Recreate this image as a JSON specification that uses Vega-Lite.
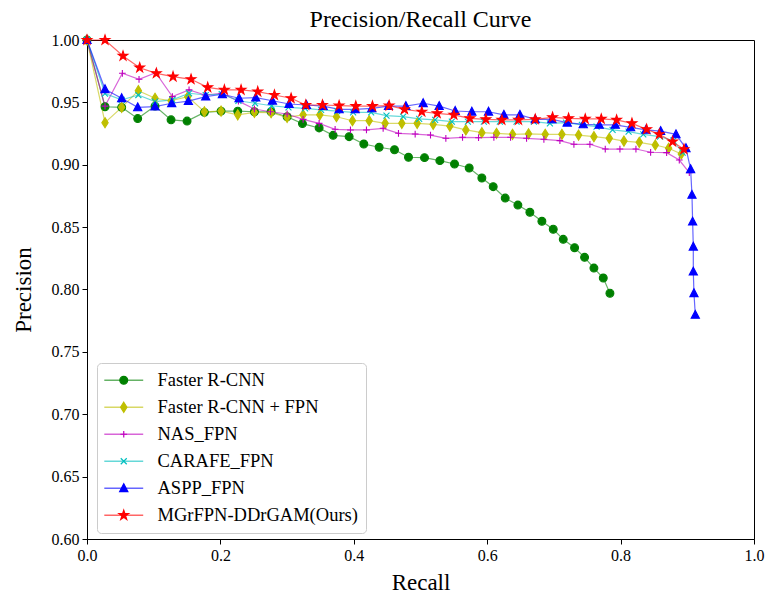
{
  "$schema": "https://vega.github.io/schema/vega-lite/v6.json",
  "width": 667,
  "height": 499,
  "autosize": {"type": "none"},
  "padding": {"left": 87, "top": 40, "right": 12, "bottom": 55},
  "background": "white",
  "title": {"text": "Precision/Recall Curve", "font": "Liberation Serif", "fontSize": 24, "fontWeight": "normal", "color": "black", "offset": 0, "frame": "group"},
  "data": {"values": [
    {"m":"Faster R-CNN","i":0,"r":0,"p":1.0},{"m":"Faster R-CNN","i":1,"r":0.027,"p":0.9465},{"m":"Faster R-CNN","i":2,"r":0.052,"p":0.946},{"m":"Faster R-CNN","i":3,"r":0.076,"p":0.937},{"m":"Faster R-CNN","i":4,"r":0.102,"p":0.947},{"m":"Faster R-CNN","i":5,"r":0.126,"p":0.936},{"m":"Faster R-CNN","i":6,"r":0.150,"p":0.935},{"m":"Faster R-CNN","i":7,"r":0.176,"p":0.942},{"m":"Faster R-CNN","i":8,"r":0.201,"p":0.943},{"m":"Faster R-CNN","i":9,"r":0.226,"p":0.943},{"m":"Faster R-CNN","i":10,"r":0.251,"p":0.9425},{"m":"Faster R-CNN","i":11,"r":0.276,"p":0.9425},{"m":"Faster R-CNN","i":12,"r":0.300,"p":0.9385},{"m":"Faster R-CNN","i":13,"r":0.323,"p":0.933},{"m":"Faster R-CNN","i":14,"r":0.348,"p":0.9295},{"m":"Faster R-CNN","i":15,"r":0.369,"p":0.9236},{"m":"Faster R-CNN","i":16,"r":0.393,"p":0.9225},{"m":"Faster R-CNN","i":17,"r":0.415,"p":0.9166},{"m":"Faster R-CNN","i":18,"r":0.438,"p":0.914},{"m":"Faster R-CNN","i":19,"r":0.461,"p":0.912},{"m":"Faster R-CNN","i":20,"r":0.482,"p":0.906},{"m":"Faster R-CNN","i":21,"r":0.506,"p":0.9057},{"m":"Faster R-CNN","i":22,"r":0.529,"p":0.9033},{"m":"Faster R-CNN","i":23,"r":0.551,"p":0.9006},{"m":"Faster R-CNN","i":24,"r":0.573,"p":0.8974},{"m":"Faster R-CNN","i":25,"r":0.592,"p":0.8894},{"m":"Faster R-CNN","i":26,"r":0.609,"p":0.8824},{"m":"Faster R-CNN","i":27,"r":0.627,"p":0.8733},{"m":"Faster R-CNN","i":28,"r":0.646,"p":0.8677},{"m":"Faster R-CNN","i":29,"r":0.664,"p":0.8619},{"m":"Faster R-CNN","i":30,"r":0.682,"p":0.8547},{"m":"Faster R-CNN","i":31,"r":0.699,"p":0.8483},{"m":"Faster R-CNN","i":32,"r":0.714,"p":0.8402},{"m":"Faster R-CNN","i":33,"r":0.731,"p":0.8335},{"m":"Faster R-CNN","i":34,"r":0.746,"p":0.8258},{"m":"Faster R-CNN","i":35,"r":0.760,"p":0.8172},{"m":"Faster R-CNN","i":36,"r":0.774,"p":0.8092},{"m":"Faster R-CNN","i":37,"r":0.784,"p":0.797},
    {"m":"Faster R-CNN + FPN","i":0,"r":0,"p":1.0},{"m":"Faster R-CNN + FPN","i":1,"r":0.027,"p":0.9337},{"m":"Faster R-CNN + FPN","i":2,"r":0.052,"p":0.946},{"m":"Faster R-CNN + FPN","i":3,"r":0.077,"p":0.9594},{"m":"Faster R-CNN + FPN","i":4,"r":0.102,"p":0.9533},{"m":"Faster R-CNN + FPN","i":5,"r":0.126,"p":0.9513},{"m":"Faster R-CNN + FPN","i":6,"r":0.151,"p":0.9546},{"m":"Faster R-CNN + FPN","i":7,"r":0.176,"p":0.9425},{"m":"Faster R-CNN + FPN","i":8,"r":0.201,"p":0.943},{"m":"Faster R-CNN + FPN","i":9,"r":0.226,"p":0.940},{"m":"Faster R-CNN + FPN","i":10,"r":0.251,"p":0.942},{"m":"Faster R-CNN + FPN","i":11,"r":0.276,"p":0.9417},{"m":"Faster R-CNN + FPN","i":12,"r":0.300,"p":0.938},{"m":"Faster R-CNN + FPN","i":13,"r":0.324,"p":0.940},{"m":"Faster R-CNN + FPN","i":14,"r":0.349,"p":0.940},{"m":"Faster R-CNN + FPN","i":15,"r":0.374,"p":0.9385},{"m":"Faster R-CNN + FPN","i":16,"r":0.398,"p":0.9353},{"m":"Faster R-CNN + FPN","i":17,"r":0.423,"p":0.9353},{"m":"Faster R-CNN + FPN","i":18,"r":0.447,"p":0.9332},{"m":"Faster R-CNN + FPN","i":19,"r":0.472,"p":0.9332},{"m":"Faster R-CNN + FPN","i":20,"r":0.495,"p":0.9332},{"m":"Faster R-CNN + FPN","i":21,"r":0.519,"p":0.9324},{"m":"Faster R-CNN + FPN","i":22,"r":0.544,"p":0.931},{"m":"Faster R-CNN + FPN","i":23,"r":0.568,"p":0.9279},{"m":"Faster R-CNN + FPN","i":24,"r":0.592,"p":0.9257},{"m":"Faster R-CNN + FPN","i":25,"r":0.614,"p":0.9252},{"m":"Faster R-CNN + FPN","i":26,"r":0.638,"p":0.9244},{"m":"Faster R-CNN + FPN","i":27,"r":0.662,"p":0.9248},{"m":"Faster R-CNN + FPN","i":28,"r":0.687,"p":0.9244},{"m":"Faster R-CNN + FPN","i":29,"r":0.712,"p":0.9244},{"m":"Faster R-CNN + FPN","i":30,"r":0.737,"p":0.9238},{"m":"Faster R-CNN + FPN","i":31,"r":0.760,"p":0.9225},{"m":"Faster R-CNN + FPN","i":32,"r":0.783,"p":0.9212},{"m":"Faster R-CNN + FPN","i":33,"r":0.805,"p":0.919},{"m":"Faster R-CNN + FPN","i":34,"r":0.828,"p":0.918},{"m":"Faster R-CNN + FPN","i":35,"r":0.852,"p":0.9158},{"m":"Faster R-CNN + FPN","i":36,"r":0.872,"p":0.9132},{"m":"Faster R-CNN + FPN","i":37,"r":0.891,"p":0.9086},
    {"m":"NAS_FPN","i":0,"r":0,"p":1.0},{"m":"NAS_FPN","i":1,"r":0.027,"p":0.947},{"m":"NAS_FPN","i":2,"r":0.053,"p":0.9733},{"m":"NAS_FPN","i":3,"r":0.078,"p":0.9685},{"m":"NAS_FPN","i":4,"r":0.103,"p":0.9738},{"m":"NAS_FPN","i":5,"r":0.128,"p":0.9546},{"m":"NAS_FPN","i":6,"r":0.153,"p":0.960},{"m":"NAS_FPN","i":7,"r":0.177,"p":0.9559},{"m":"NAS_FPN","i":8,"r":0.202,"p":0.9573},{"m":"NAS_FPN","i":9,"r":0.227,"p":0.951},{"m":"NAS_FPN","i":10,"r":0.251,"p":0.9447},{"m":"NAS_FPN","i":11,"r":0.275,"p":0.9425},{"m":"NAS_FPN","i":12,"r":0.300,"p":0.9407},{"m":"NAS_FPN","i":13,"r":0.324,"p":0.9364},{"m":"NAS_FPN","i":14,"r":0.348,"p":0.9332},{"m":"NAS_FPN","i":15,"r":0.372,"p":0.9284},{"m":"NAS_FPN","i":16,"r":0.395,"p":0.9279},{"m":"NAS_FPN","i":17,"r":0.419,"p":0.9279},{"m":"NAS_FPN","i":18,"r":0.444,"p":0.9292},{"m":"NAS_FPN","i":19,"r":0.467,"p":0.9252},{"m":"NAS_FPN","i":20,"r":0.492,"p":0.9246},{"m":"NAS_FPN","i":21,"r":0.515,"p":0.9238},{"m":"NAS_FPN","i":22,"r":0.538,"p":0.9212},{"m":"NAS_FPN","i":23,"r":0.563,"p":0.922},{"m":"NAS_FPN","i":24,"r":0.587,"p":0.9217},{"m":"NAS_FPN","i":25,"r":0.610,"p":0.922},{"m":"NAS_FPN","i":26,"r":0.635,"p":0.922},{"m":"NAS_FPN","i":27,"r":0.659,"p":0.9212},{"m":"NAS_FPN","i":28,"r":0.685,"p":0.9204},{"m":"NAS_FPN","i":29,"r":0.709,"p":0.9193},{"m":"NAS_FPN","i":30,"r":0.730,"p":0.9164},{"m":"NAS_FPN","i":31,"r":0.754,"p":0.9164},{"m":"NAS_FPN","i":32,"r":0.777,"p":0.9126},{"m":"NAS_FPN","i":33,"r":0.799,"p":0.9126},{"m":"NAS_FPN","i":34,"r":0.823,"p":0.9126},{"m":"NAS_FPN","i":35,"r":0.845,"p":0.910},{"m":"NAS_FPN","i":36,"r":0.869,"p":0.9097},{"m":"NAS_FPN","i":37,"r":0.888,"p":0.9038},{"m":"NAS_FPN","i":38,"r":0.903,"p":0.8936},
    {"m":"CARAFE_FPN","i":0,"r":0,"p":1.0},{"m":"CARAFE_FPN","i":1,"r":0.027,"p":0.957},{"m":"CARAFE_FPN","i":2,"r":0.052,"p":0.952},{"m":"CARAFE_FPN","i":3,"r":0.077,"p":0.9559},{"m":"CARAFE_FPN","i":4,"r":0.102,"p":0.9506},{"m":"CARAFE_FPN","i":5,"r":0.128,"p":0.952},{"m":"CARAFE_FPN","i":6,"r":0.153,"p":0.9573},{"m":"CARAFE_FPN","i":7,"r":0.178,"p":0.9559},{"m":"CARAFE_FPN","i":8,"r":0.202,"p":0.9567},{"m":"CARAFE_FPN","i":9,"r":0.227,"p":0.9513},{"m":"CARAFE_FPN","i":10,"r":0.252,"p":0.9493},{"m":"CARAFE_FPN","i":11,"r":0.277,"p":0.9473},{"m":"CARAFE_FPN","i":12,"r":0.302,"p":0.946},{"m":"CARAFE_FPN","i":13,"r":0.327,"p":0.9452},{"m":"CARAFE_FPN","i":14,"r":0.351,"p":0.944},{"m":"CARAFE_FPN","i":15,"r":0.375,"p":0.943},{"m":"CARAFE_FPN","i":16,"r":0.399,"p":0.942},{"m":"CARAFE_FPN","i":17,"r":0.426,"p":0.942},{"m":"CARAFE_FPN","i":18,"r":0.449,"p":0.9394},{"m":"CARAFE_FPN","i":19,"r":0.474,"p":0.9385},{"m":"CARAFE_FPN","i":20,"r":0.498,"p":0.9367},{"m":"CARAFE_FPN","i":21,"r":0.522,"p":0.9359},{"m":"CARAFE_FPN","i":22,"r":0.547,"p":0.9345},{"m":"CARAFE_FPN","i":23,"r":0.571,"p":0.9345},{"m":"CARAFE_FPN","i":24,"r":0.595,"p":0.9345},{"m":"CARAFE_FPN","i":25,"r":0.619,"p":0.9345},{"m":"CARAFE_FPN","i":26,"r":0.644,"p":0.9345},{"m":"CARAFE_FPN","i":27,"r":0.670,"p":0.9345},{"m":"CARAFE_FPN","i":28,"r":0.694,"p":0.9332},{"m":"CARAFE_FPN","i":29,"r":0.718,"p":0.9337},{"m":"CARAFE_FPN","i":30,"r":0.742,"p":0.9319},{"m":"CARAFE_FPN","i":31,"r":0.764,"p":0.9305},{"m":"CARAFE_FPN","i":32,"r":0.788,"p":0.9279},{"m":"CARAFE_FPN","i":33,"r":0.812,"p":0.9265},{"m":"CARAFE_FPN","i":34,"r":0.834,"p":0.9244},{"m":"CARAFE_FPN","i":35,"r":0.859,"p":0.9225},{"m":"CARAFE_FPN","i":36,"r":0.879,"p":0.9193},{"m":"CARAFE_FPN","i":37,"r":0.893,"p":0.9097},
    {"m":"ASPP_FPN","i":0,"r":0,"p":1.0},{"m":"ASPP_FPN","i":1,"r":0.027,"p":0.9605},{"m":"ASPP_FPN","i":2,"r":0.052,"p":0.9533},{"m":"ASPP_FPN","i":3,"r":0.076,"p":0.946},{"m":"ASPP_FPN","i":4,"r":0.102,"p":0.9466},{"m":"ASPP_FPN","i":5,"r":0.127,"p":0.9493},{"m":"ASPP_FPN","i":6,"r":0.152,"p":0.951},{"m":"ASPP_FPN","i":7,"r":0.178,"p":0.9546},{"m":"ASPP_FPN","i":8,"r":0.203,"p":0.9565},{"m":"ASPP_FPN","i":9,"r":0.228,"p":0.9533},{"m":"ASPP_FPN","i":10,"r":0.253,"p":0.9538},{"m":"ASPP_FPN","i":11,"r":0.278,"p":0.9513},{"m":"ASPP_FPN","i":12,"r":0.303,"p":0.9487},{"m":"ASPP_FPN","i":13,"r":0.329,"p":0.9479},{"m":"ASPP_FPN","i":14,"r":0.354,"p":0.947},{"m":"ASPP_FPN","i":15,"r":0.378,"p":0.9444},{"m":"ASPP_FPN","i":16,"r":0.402,"p":0.9444},{"m":"ASPP_FPN","i":17,"r":0.427,"p":0.9452},{"m":"ASPP_FPN","i":18,"r":0.452,"p":0.947},{"m":"ASPP_FPN","i":19,"r":0.478,"p":0.947},{"m":"ASPP_FPN","i":20,"r":0.504,"p":0.9493},{"m":"ASPP_FPN","i":21,"r":0.528,"p":0.947},{"m":"ASPP_FPN","i":22,"r":0.552,"p":0.9431},{"m":"ASPP_FPN","i":23,"r":0.577,"p":0.9425},{"m":"ASPP_FPN","i":24,"r":0.602,"p":0.9425},{"m":"ASPP_FPN","i":25,"r":0.625,"p":0.940},{"m":"ASPP_FPN","i":26,"r":0.649,"p":0.940},{"m":"ASPP_FPN","i":27,"r":0.672,"p":0.9364},{"m":"ASPP_FPN","i":28,"r":0.697,"p":0.9364},{"m":"ASPP_FPN","i":29,"r":0.720,"p":0.9337},{"m":"ASPP_FPN","i":30,"r":0.744,"p":0.9324},{"m":"ASPP_FPN","i":31,"r":0.768,"p":0.9319},{"m":"ASPP_FPN","i":32,"r":0.792,"p":0.9319},{"m":"ASPP_FPN","i":33,"r":0.815,"p":0.930},{"m":"ASPP_FPN","i":34,"r":0.838,"p":0.9279},{"m":"ASPP_FPN","i":35,"r":0.860,"p":0.927},{"m":"ASPP_FPN","i":36,"r":0.883,"p":0.9244},{"m":"ASPP_FPN","i":37,"r":0.898,"p":0.9132},{"m":"ASPP_FPN","i":38,"r":0.905,"p":0.8964},{"m":"ASPP_FPN","i":39,"r":0.907,"p":0.8758},{"m":"ASPP_FPN","i":40,"r":0.908,"p":0.8544},{"m":"ASPP_FPN","i":41,"r":0.909,"p":0.8343},{"m":"ASPP_FPN","i":42,"r":0.909,"p":0.8143},{"m":"ASPP_FPN","i":43,"r":0.910,"p":0.797},{"m":"ASPP_FPN","i":44,"r":0.912,"p":0.7796},
    {"m":"MGrFPN-DDrGAM(Ours)","i":0,"r":0,"p":1.0},{"m":"MGrFPN-DDrGAM(Ours)","i":1,"r":0.027,"p":1.0},{"m":"MGrFPN-DDrGAM(Ours)","i":2,"r":0.054,"p":0.9872},{"m":"MGrFPN-DDrGAM(Ours)","i":3,"r":0.079,"p":0.9778},{"m":"MGrFPN-DDrGAM(Ours)","i":4,"r":0.104,"p":0.9733},{"m":"MGrFPN-DDrGAM(Ours)","i":5,"r":0.129,"p":0.9706},{"m":"MGrFPN-DDrGAM(Ours)","i":6,"r":0.156,"p":0.9685},{"m":"MGrFPN-DDrGAM(Ours)","i":7,"r":0.181,"p":0.962},{"m":"MGrFPN-DDrGAM(Ours)","i":8,"r":0.206,"p":0.960},{"m":"MGrFPN-DDrGAM(Ours)","i":9,"r":0.231,"p":0.960},{"m":"MGrFPN-DDrGAM(Ours)","i":10,"r":0.256,"p":0.9586},{"m":"MGrFPN-DDrGAM(Ours)","i":11,"r":0.281,"p":0.9559},{"m":"MGrFPN-DDrGAM(Ours)","i":12,"r":0.306,"p":0.9533},{"m":"MGrFPN-DDrGAM(Ours)","i":13,"r":0.328,"p":0.9479},{"m":"MGrFPN-DDrGAM(Ours)","i":14,"r":0.353,"p":0.9479},{"m":"MGrFPN-DDrGAM(Ours)","i":15,"r":0.378,"p":0.9474},{"m":"MGrFPN-DDrGAM(Ours)","i":16,"r":0.403,"p":0.947},{"m":"MGrFPN-DDrGAM(Ours)","i":17,"r":0.428,"p":0.947},{"m":"MGrFPN-DDrGAM(Ours)","i":18,"r":0.453,"p":0.9474},{"m":"MGrFPN-DDrGAM(Ours)","i":19,"r":0.476,"p":0.9444},{"m":"MGrFPN-DDrGAM(Ours)","i":20,"r":0.502,"p":0.9425},{"m":"MGrFPN-DDrGAM(Ours)","i":21,"r":0.525,"p":0.9412},{"m":"MGrFPN-DDrGAM(Ours)","i":22,"r":0.550,"p":0.940},{"m":"MGrFPN-DDrGAM(Ours)","i":23,"r":0.574,"p":0.9372},{"m":"MGrFPN-DDrGAM(Ours)","i":24,"r":0.598,"p":0.9364},{"m":"MGrFPN-DDrGAM(Ours)","i":25,"r":0.622,"p":0.9359},{"m":"MGrFPN-DDrGAM(Ours)","i":26,"r":0.647,"p":0.9359},{"m":"MGrFPN-DDrGAM(Ours)","i":27,"r":0.672,"p":0.9364},{"m":"MGrFPN-DDrGAM(Ours)","i":28,"r":0.698,"p":0.938},{"m":"MGrFPN-DDrGAM(Ours)","i":29,"r":0.722,"p":0.9372},{"m":"MGrFPN-DDrGAM(Ours)","i":30,"r":0.747,"p":0.9367},{"m":"MGrFPN-DDrGAM(Ours)","i":31,"r":0.771,"p":0.9367},{"m":"MGrFPN-DDrGAM(Ours)","i":32,"r":0.794,"p":0.9359},{"m":"MGrFPN-DDrGAM(Ours)","i":33,"r":0.817,"p":0.9332},{"m":"MGrFPN-DDrGAM(Ours)","i":34,"r":0.839,"p":0.9284},{"m":"MGrFPN-DDrGAM(Ours)","i":35,"r":0.858,"p":0.9244},{"m":"MGrFPN-DDrGAM(Ours)","i":36,"r":0.878,"p":0.9185},{"m":"MGrFPN-DDrGAM(Ours)","i":37,"r":0.895,"p":0.9124}
  ]},
  "encoding": {
    "x": {"field": "r", "type": "quantitative", "scale": {"domain": [0, 1], "nice": false, "zero": false},
      "axis": {"title": "Recall", "values": [0, 0.2, 0.4, 0.6, 0.8, 1.0], "format": ".1f", "titleY": 50, "titleBaseline": "alphabetic", "titleX": 333.5, "titleAlign": "center"}},
    "y": {"field": "p", "type": "quantitative", "scale": {"domain": [0.6, 1.0], "nice": false, "zero": false},
      "axis": {"title": "Precision", "values": [0.6, 0.65, 0.7, 0.75, 0.8, 0.85, 0.9, 0.95, 1.0], "format": ".2f", "titleX": -57, "titleY": 249.5, "titleBaseline": "alphabetic", "titleAlign": "center", "titleAngle": -90}}
  },
  "layer": [
    {
      "mark": {"type": "line", "strokeWidth": 1.2, "opacity": 0.6, "clip": false},
      "encoding": {
        "color": {"field": "m", "type": "nominal",
          "scale": {"domain": ["MGrFPN-DDrGAM(Ours)", "ASPP_FPN", "CARAFE_FPN", "NAS_FPN", "Faster R-CNN + FPN", "Faster R-CNN"],
                    "range": ["#ff0000", "#0000ff", "#00bfbf", "#bf00bf", "#bfbf00", "#008000"]},
          "legend": {
            "title": null, "orient": "none", "legendX": 10, "legendY": 323,
            "values": ["Faster R-CNN", "Faster R-CNN + FPN", "NAS_FPN", "CARAFE_FPN", "ASPP_FPN", "MGrFPN-DDrGAM(Ours)"],
            "symbolType": "M-5.2,0H5.2", "symbolSize": 56, "symbolStrokeWidth": 1.5,
            "symbolOffset": 9.5, "labelOffset": 24.5, "rowPadding": 8, "padding": 8, "strokeColor": "#cccccc",
            "cornerRadius": 4, "fillColor": "white", "labelFont": "Liberation Serif", "labelFontSize": 18.5,
            "labelOpacity": 0, "labelLimit": 400}},
        "order": {"field": "i", "type": "quantitative"}
      }
    },
    {
      "mark": {"type": "point", "filled": true, "size": 56, "strokeWidth": 1.1, "opacity": 1},
      "encoding": {
        "fill": {"field": "m", "type": "nominal",
          "scale": {"domain": ["Faster R-CNN", "Faster R-CNN + FPN", "NAS_FPN", "CARAFE_FPN", "ASPP_FPN", "MGrFPN-DDrGAM(Ours)"],
                    "range": ["#008000", "#bfbf00", "#bf00bf", "#00bfbf", "#0000ff", "#ff0000"]},
          "legend": {
            "title": null, "orient": "none", "legendX": 10, "legendY": 323, "symbolSize": 56, "symbolStrokeWidth": 1.2,
            "symbolOffset": 9.5, "labelOffset": 24.5, "rowPadding": 8, "padding": 8,
            "labelFont": "Liberation Serif", "labelFontSize": 18.5, "labelColor": "black", "labelLimit": 400}},
        "stroke": {"field": "m", "type": "nominal",
          "scale": {"domain": ["Faster R-CNN", "Faster R-CNN + FPN", "NAS_FPN", "CARAFE_FPN", "ASPP_FPN", "MGrFPN-DDrGAM(Ours)"],
                    "range": ["#008000", "#bfbf00", "#bf00bf", "#00bfbf", "#0000ff", "#ff0000"]},
          "legend": {
            "title": null, "orient": "none", "legendX": 10, "legendY": 323, "symbolSize": 56, "symbolStrokeWidth": 1.2,
            "symbolOffset": 9.5, "labelOffset": 24.5, "rowPadding": 8, "padding": 8,
            "labelFont": "Liberation Serif", "labelFontSize": 18.5, "labelColor": "black", "labelLimit": 400}},
        "shape": {"field": "m", "type": "nominal",
          "scale": {"domain": ["Faster R-CNN", "Faster R-CNN + FPN", "NAS_FPN", "CARAFE_FPN", "ASPP_FPN", "MGrFPN-DDrGAM(Ours)"],
                    "range": [
                      "M1.05,0A1.05,1.05 0 1,1 -1.05,0A1.05,1.05 0 1,1 1.05,0Z",
                      "M0,-1.35L0.85,0L0,1.35L-0.85,0Z",
                      "M-0.9,0H0.9M0,-0.9V0.9",
                      "M-0.8,-0.8L0.8,0.8M-0.8,0.8L0.8,-0.8",
                      "M0,-1.2L1.1,0.9L-1.1,0.9Z",
                      "M0,-1.35L0.306,-0.421L1.284,-0.417L0.495,0.161L0.794,1.092L0,0.52L-0.794,1.092L-0.495,0.161L-1.284,-0.417L-0.306,-0.421Z"
                    ]},
          "legend": {
            "title": null, "orient": "none", "legendX": 10, "legendY": 323, "symbolSize": 56, "symbolStrokeWidth": 1.2,
            "symbolOffset": 9.5, "labelOffset": 24.5, "rowPadding": 8, "padding": 8,
            "labelFont": "Liberation Serif", "labelFontSize": 18.5, "labelColor": "black", "labelLimit": 400}
        }
      }
    }
  ],
  "config": {
    "view": {"stroke": "black", "strokeWidth": 1},
    "axis": {
      "grid": false,
      "domainColor": "black",
      "domainWidth": 1,
      "tickColor": "black",
      "tickSize": 5,
      "tickWidth": 1,
      "labelFont": "Liberation Serif",
      "labelFontSize": 16,
      "labelColor": "black",
      "labelPadding": 3,
      "labelFlush": false,
      "labelOverlap": false,
      "titleFont": "Liberation Serif",
      "titleFontSize": 23,
      "titleFontWeight": "normal",
      "titleColor": "black"
    }
  }
}
